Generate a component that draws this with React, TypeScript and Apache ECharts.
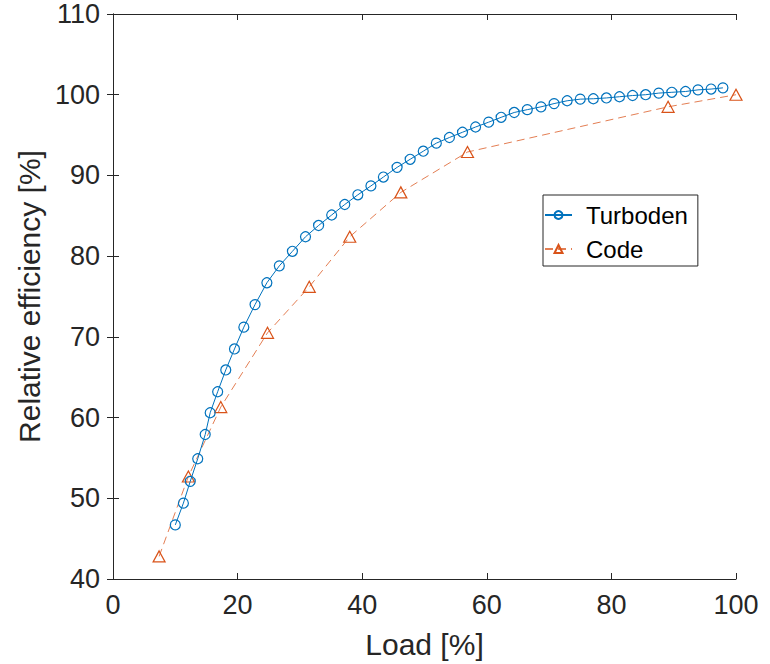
import React, { useEffect, useRef } from "react";
import * as echarts from "echarts";

const turbodenLoad = [10.0, 11.3, 12.4, 13.6, 14.8, 15.6, 16.8, 18.1, 19.5, 21.0, 22.8, 24.7, 26.7, 28.8, 30.9, 33.0, 35.1, 37.2, 39.3, 41.4, 43.4, 45.6, 47.7, 49.8, 51.9, 54.0, 56.1, 58.2, 60.3, 62.3, 64.4, 66.5, 68.7, 70.8, 72.9, 75.0, 77.1, 79.2, 81.3, 83.4, 85.5, 87.6, 89.7, 91.9, 93.9, 96.0, 97.9];
const turbodenEff = [46.7, 49.4, 52.1, 54.9, 57.9, 60.6, 63.2, 65.9, 68.5, 71.2, 74.0, 76.7, 78.8, 80.6, 82.4, 83.8, 85.1, 86.4, 87.6, 88.7, 89.8, 91.0, 92.0, 93.0, 94.0, 94.7, 95.35, 96.0, 96.6, 97.2, 97.8, 98.15, 98.5, 98.9, 99.25, 99.45, 99.5, 99.6, 99.75, 99.9, 100.0, 100.2, 100.3, 100.4, 100.6, 100.7, 100.85];
const codeLoad = [7.4, 12.1, 17.3, 24.8, 31.5, 38.0, 46.2, 56.9, 89.1, 100];
const codeEff = [42.8, 52.7, 61.3, 70.5, 76.2, 82.4, 87.9, 92.9, 98.5, 100];

const xTicks = { min: 0, max: 100, interval: 20 };
const yTicks = { min: 40, max: 110, interval: 10 };

export default function App() {
  const ref = useRef<HTMLDivElement>(null);
  useEffect(() => {
    if (!ref.current) return;
    const chart = echarts.init(ref.current, null, { renderer: "svg" });
    const axisColor = "#262626";
    const font = "Liberation Sans, Arial, sans-serif";
    const hiddenAxis = {
      axisLine: { show: true, lineStyle: { color: axisColor, width: 1 } },
      axisTick: { show: true, inside: true, length: 6, lineStyle: { color: axisColor } },
      axisLabel: { show: false },
      splitLine: { show: false },
    };
    chart.setOption({
      animation: false,
      backgroundColor: "#ffffff",
      grid: { left: 113, right: 34, top: 14, bottom: 83 },
      legend: {
        orient: "vertical",
        left: 543,
        top: 195,
        backgroundColor: "#ffffff",
        borderColor: axisColor,
        borderWidth: 1,
        padding: [8, 10, 5, 1],
        itemGap: 10,
        itemWidth: 27,
        itemHeight: 10,
        textStyle: { fontFamily: font, fontSize: 24, color: "#000000", padding: [0, 0, 0, 9] },
        data: ["Turboden", "Code"],
      },
      xAxis: [
        {
          type: "value",
          ...xTicks,
          name: "Load [%]",
          nameLocation: "middle",
          nameGap: 50,
          nameTextStyle: { fontFamily: font, fontSize: 30, color: axisColor },
          axisLine: { show: true, lineStyle: { color: axisColor, width: 1 } },
          axisTick: { show: true, inside: true, length: 6, lineStyle: { color: axisColor } },
          axisLabel: { fontFamily: font, fontSize: 27, color: axisColor, margin: 12 },
          splitLine: { show: false },
        },
        { type: "value", position: "top", ...xTicks, ...hiddenAxis },
      ],
      yAxis: [
        {
          type: "value",
          ...yTicks,
          name: "Relative efficiency [%]",
          nameLocation: "middle",
          nameGap: 67,
          nameTextStyle: { fontFamily: font, fontSize: 30, color: axisColor },
          axisLine: { show: true, lineStyle: { color: axisColor, width: 1 } },
          axisTick: { show: true, inside: true, length: 6, lineStyle: { color: axisColor } },
          axisLabel: { fontFamily: font, fontSize: 27, color: axisColor, margin: 13 },
          splitLine: { show: false },
        },
        { type: "value", position: "right", ...yTicks, ...hiddenAxis },
      ],
      series: [
        {
          name: "Turboden",
          type: "line",
          data: turbodenLoad.map((x, i) => [x, turbodenEff[i]]),
          symbol: "circle",
          symbolSize: 10,
          lineStyle: { color: "#0072BD", width: 1 },
          itemStyle: { color: "rgba(0,0,0,0)", borderColor: "#0072BD", borderWidth: 1.2 },
          z: 3,
        },
        {
          name: "Code",
          type: "line",
          data: codeLoad.map((x, i) => [x, codeEff[i]]),
          symbol: "triangle",
          symbolSize: [12, 11],
          lineStyle: { color: "rgba(217,83,25,0.75)", width: 1, type: [8, 5] },
          itemStyle: { color: "rgba(0,0,0,0)", borderColor: "#D95319", borderWidth: 1.2 },
          z: 2,
        },
      ],
    });
    return () => chart.dispose();
  }, []);
  return (
    <div
      ref={ref}
      style={{ position: "fixed", left: 0, top: 0, width: 770, height: 664, background: "#fff" }}
    />
  );
}
